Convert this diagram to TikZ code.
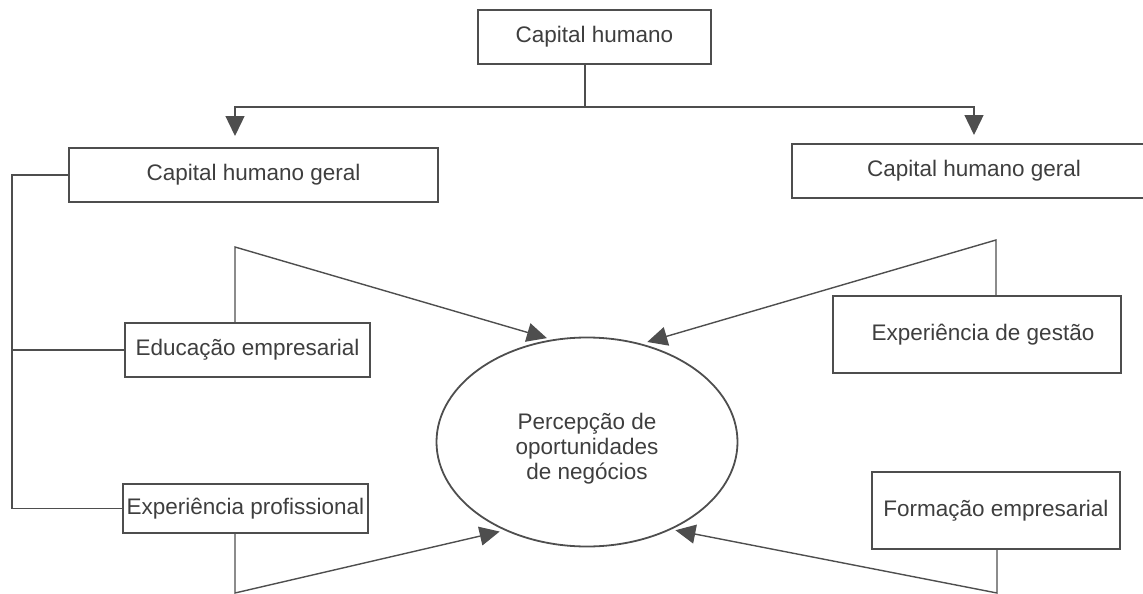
\documentclass[tikz,border=0pt]{standalone}
\usepackage{fontspec}
\setmainfont{Liberation Sans}
\usetikzlibrary{shapes.geometric,arrows.meta}
\definecolor{linegray}{RGB}{78,78,78}
\definecolor{textgray}{RGB}{62,62,62}
\tikzstyle{box}=[draw=linegray,line width=1.8pt,text=textgray,inner sep=0pt,font=\fontsize{22.5}{25}\selectfont]
\tikzstyle{conn}=[draw=linegray,line width=1.4pt]
\tikzstyle{arr}=[conn,-{Triangle[width=19pt,length=20pt]}]

\begin{document}
\begin{tikzpicture}[x=1pt,y=-1pt]
\useasboundingbox (0,0) rectangle (1143,594);

\node[box,minimum width=233pt,minimum height=54pt] (top) at (594.5,37) {Capital humano};
\node[box,minimum width=369pt,minimum height=54pt] (genL) at (253.5,175) {Capital humano geral};
\node[box,minimum width=364pt,minimum height=54pt] (genR) at (974,171) {Capital humano geral};
\node[box,minimum width=245pt,minimum height=54pt] (educ) at (247.5,350) {Educação empresarial};
\node[box,minimum width=245pt,minimum height=49pt] (prof) at (245.5,508.5) {Experiência profissional};
\node[box,minimum width=288pt,minimum height=77pt] (gest) at (977,334.5) {\hspace{12pt}Experiência de gestão};
\node[box,minimum width=248pt,minimum height=77pt] (form) at (996,510.5) {Formação empresarial};
\node[box,ellipse,minimum width=301pt,minimum height=209pt,align=center] (percep) at (587,442)
    {\rule{0pt}{30pt}Percepção de\\oportunidades\\de negócios};

% top split
\coordinate (hub) at (585,107);
\coordinate (tipL) at (235,136);
\coordinate (tipR) at (974,135);
\draw[conn] (top.south -| hub) -- (hub);
\draw[arr] (hub) -| (tipL);
\draw[arr] (hub) -| (tipR);

% left bus
\coordinate (bus) at (12,174);
\draw[conn] (genL.west) -| (bus |- prof.west) -- (prof.west);
\draw[conn] (bus |- educ.west) -- (educ.west);

% into the ellipse
\coordinate (jEd) at (235,247);
\coordinate (jGe) at (996,240);
\coordinate (jPr) at (235,593);
\coordinate (jFo) at (997,593);
\draw[arr,shorten >=5pt] (jEd |- educ.north) -- (jEd) -- (percep.109);
\draw[arr,shorten >=6pt] (jGe |- gest.north) -- (jGe) -- (percep.61);
\draw[arr,shorten >=5pt] (jPr |- prof.south) -- (jPr) -- (percep.227);
\draw[arr,shorten >=4pt] (jFo |- form.south) -- (jFo) -- (percep.314);
\end{tikzpicture}
\end{document}
